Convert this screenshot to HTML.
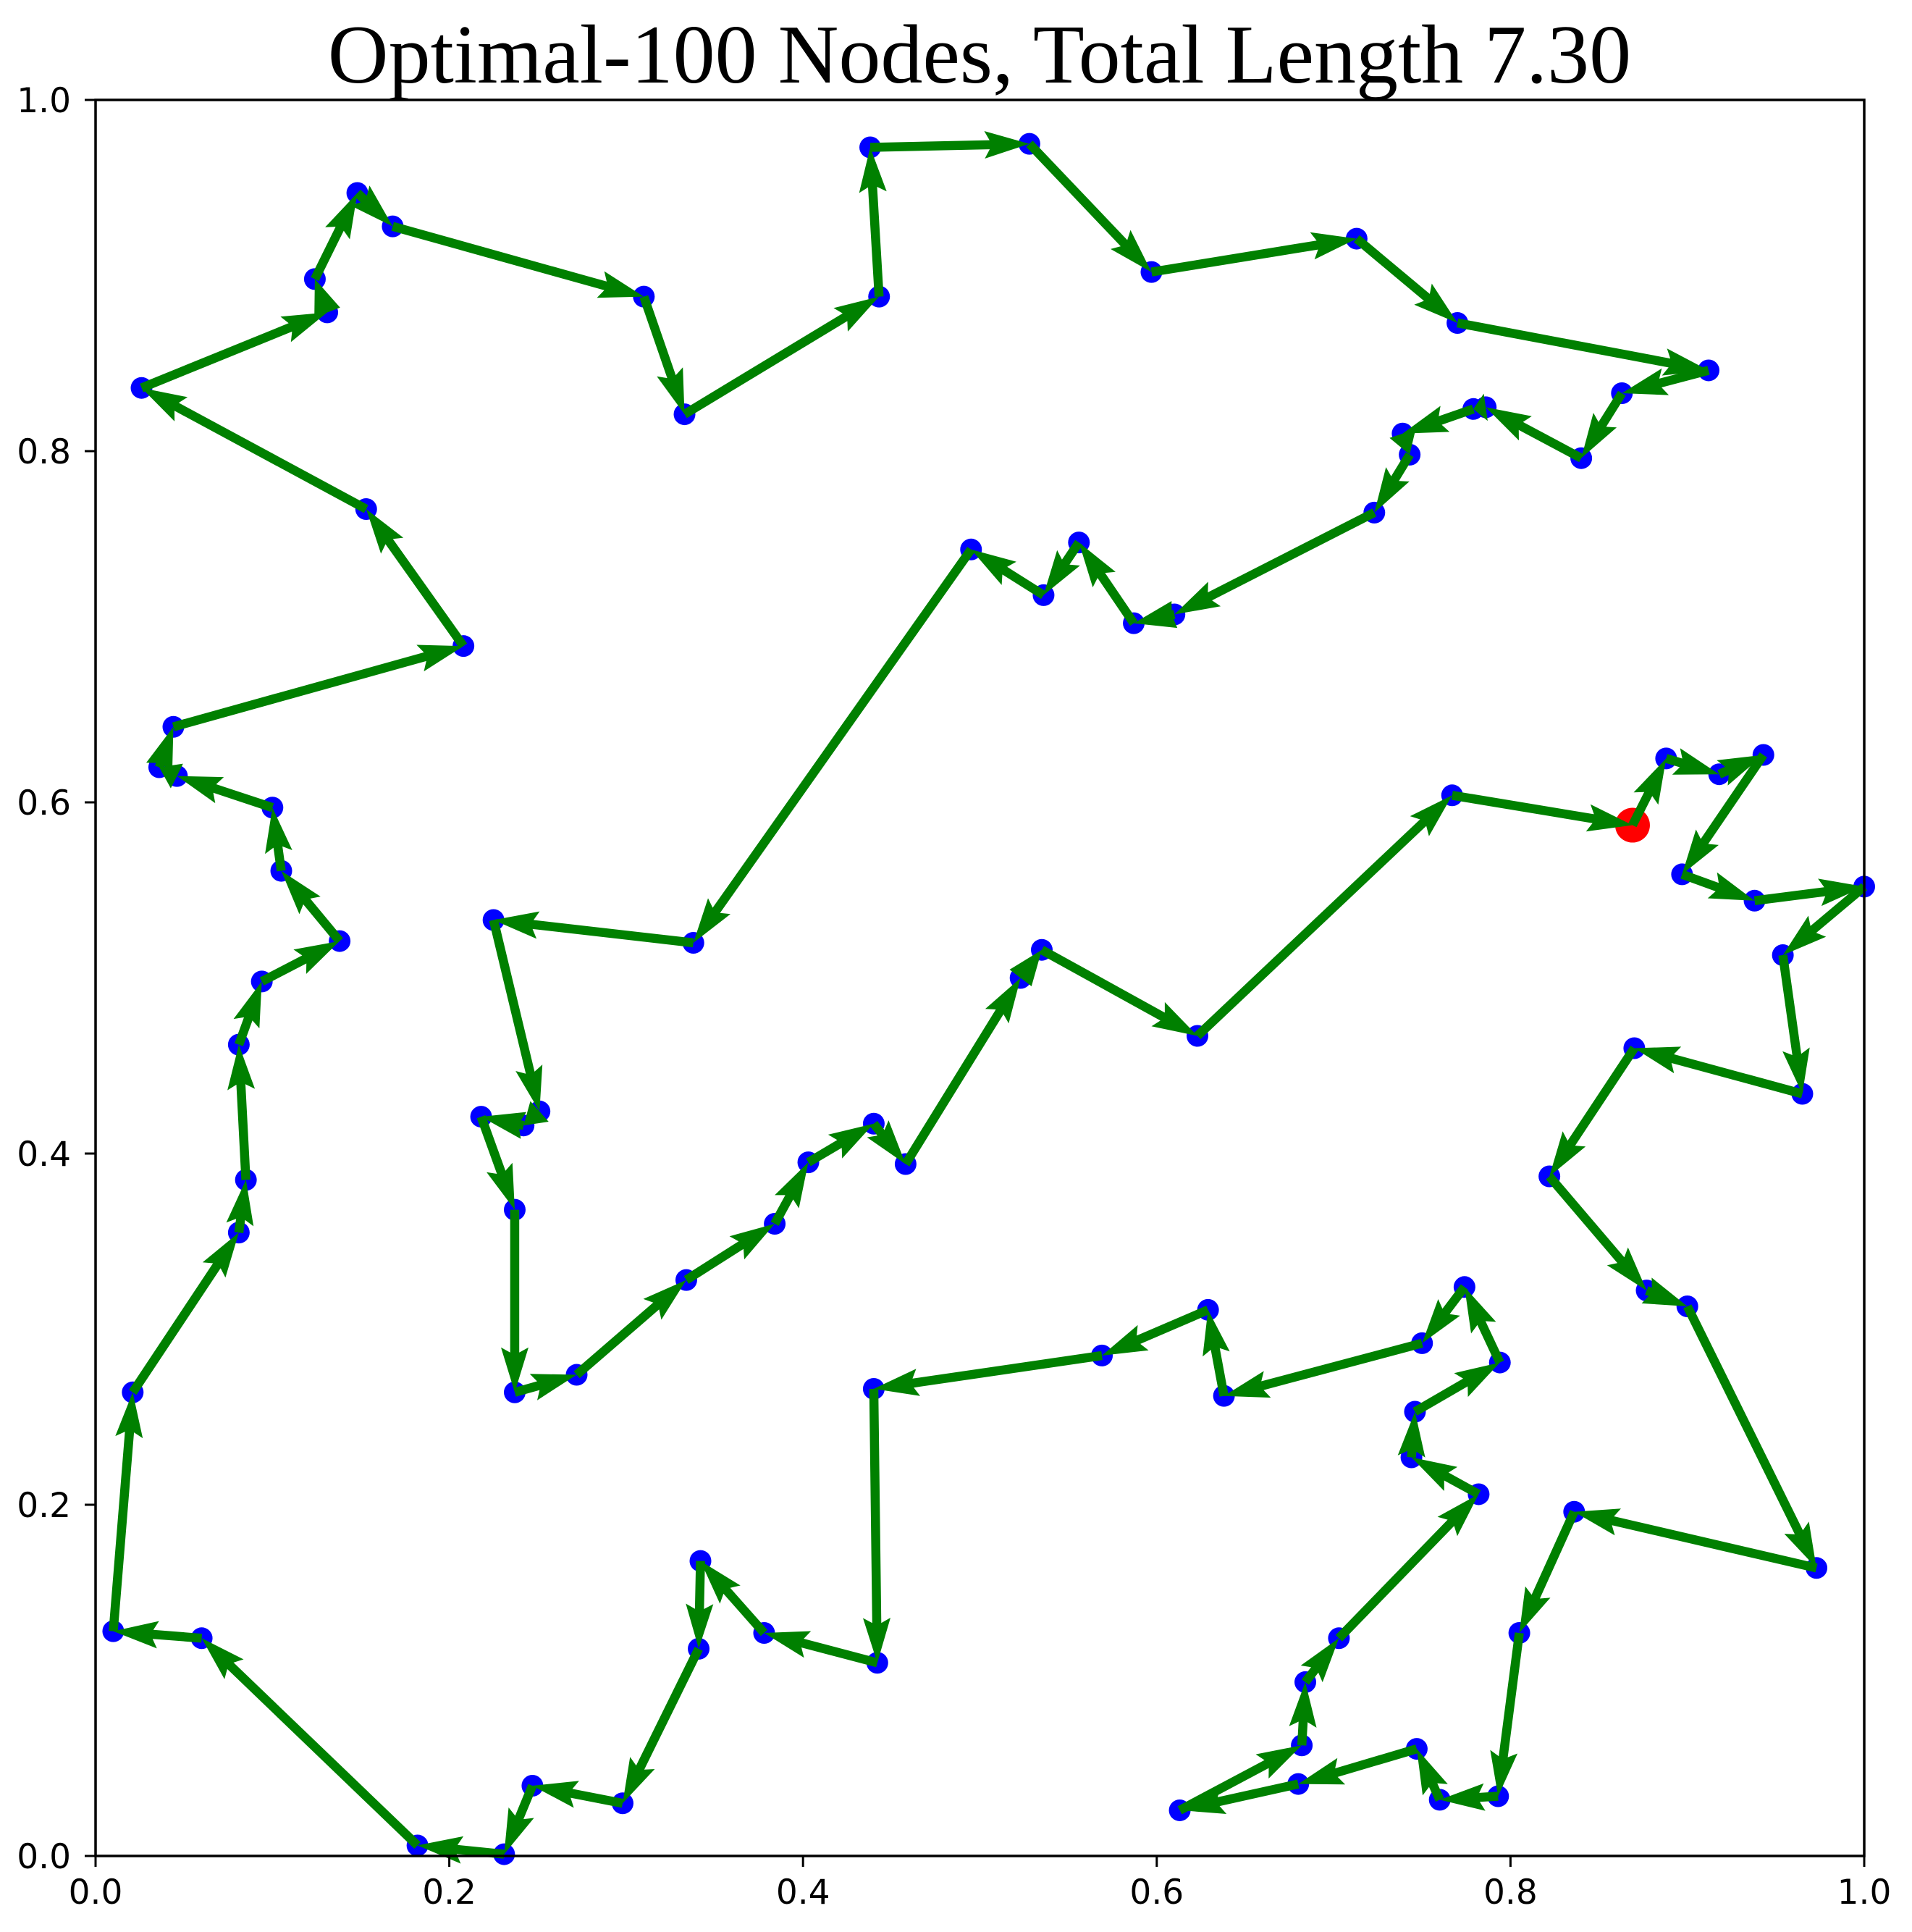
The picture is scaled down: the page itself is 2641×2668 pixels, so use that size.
<!DOCTYPE html>
<html><head><meta charset="utf-8"><style>
html,body{margin:0;padding:0;background:#fff;}
svg{display:block;}
</style></head><body>
<svg id="chart" width="2641" height="2668" viewBox="0 0 2641 2668" xmlns="http://www.w3.org/2000/svg">
<rect x="0" y="0" width="2641" height="2668" fill="#fff"/>
<text x="1353" y="114" font-family="Liberation Serif, serif" font-size="116" text-anchor="middle" fill="#000">Optimal-100 Nodes, Total Length 7.30</text>
<g id="marks"></g>
<g id="axes"></g>
</svg>
<script>
const tourX = [0.869,0.888,0.918,0.943,0.897,0.938,1.000,0.954,0.965,0.870,0.822,0.877,0.900,0.973,0.836,0.805,0.793,0.760,0.747,0.680,0.613,0.682,0.684,0.703,0.782,0.744,0.746,0.794,0.774,0.750,0.638,0.629,0.569,0.440,0.442,0.378,0.342,0.341,0.298,0.247,0.231,0.182,0.060,0.010,0.021,0.081,0.085,0.081,0.094,0.138,0.105,0.100,0.046,0.036,0.044,0.208,0.153,0.026,0.131,0.124,0.148,0.168,0.310,0.333,0.443,0.438,0.528,0.597,0.713,0.770,0.912,0.863,0.840,0.786,0.779,0.739,0.743,0.723,0.610,0.587,0.556,0.536,0.495,0.338,0.225,0.251,0.242,0.218,0.237,0.237,0.272,0.334,0.384,0.403,0.440,0.458,0.523,0.535,0.623,0.767];
const tourY = [0.587,0.625,0.616,0.627,0.559,0.544,0.552,0.513,0.434,0.460,0.387,0.322,0.313,0.164,0.196,0.127,0.034,0.032,0.061,0.041,0.026,0.063,0.099,0.124,0.206,0.227,0.253,0.281,0.324,0.292,0.262,0.311,0.285,0.266,0.110,0.127,0.168,0.118,0.030,0.040,0.001,0.006,0.124,0.128,0.264,0.355,0.385,0.462,0.498,0.521,0.561,0.597,0.615,0.620,0.643,0.689,0.767,0.836,0.879,0.898,0.947,0.928,0.888,0.821,0.888,0.973,0.975,0.902,0.921,0.873,0.846,0.833,0.796,0.825,0.824,0.810,0.798,0.765,0.707,0.702,0.748,0.718,0.744,0.520,0.533,0.424,0.416,0.421,0.368,0.264,0.274,0.328,0.360,0.395,0.417,0.394,0.500,0.516,0.467,0.604];
const xTickVals = [0.0,0.2,0.4,0.6,0.8,1.0];
const yTickVals = [0.0,0.2,0.4,0.6,0.8,1.0];
const xTickLabels = ["0.0","0.2","0.4","0.6","0.8","1.0"];
const yTickLabels = ["0.0","0.2","0.4","0.6","0.8","1.0"];

const L=132,R=2575,T=138,B=2563;
function sx(v){return L+v*(R-L);}
function sy(v){return B-v*(B-T);}
const NS='http://www.w3.org/2000/svg';
const marks=document.getElementById('marks');
const axes=document.getElementById('axes');
function mk(tag,attrs,parent){const e=document.createElementNS(NS,tag);for(const k in attrs)e.setAttribute(k,attrs[k]);parent.appendChild(e);return e;}

for(let i=0;i<tourX.length;i++){
  const c=mk('circle',{cx:sx(tourX[i]),cy:sy(tourY[i]),r:15,fill:'#0000ff'},marks);
  
  
}
const start=mk('circle',{cx:sx(tourX[0]),cy:sy(tourY[0]),r:24,fill:'#ff0000'},marks);



const w=12.5, hl=62, hw=19, ha=55;
for(let i=0;i<tourX.length;i++){
  const j=(i+1)%tourX.length;
  const x0=sx(tourX[i]),y0=sy(tourY[i]),x1=sx(tourX[j]),y1=sy(tourY[j]);
  const dx=x1-x0,dy=y1-y0,len=Math.hypot(dx,dy);
  if(len<1)continue;
  const ux=dx/len,uy=dy/len,px=-uy,py=ux;
  const hlen=Math.min(hl,len), alen=Math.min(ha,len);
  const pts=[
    [x0+px*w/2,y0+py*w/2],
    [x1-ux*alen+px*w/2,y1-uy*alen+py*w/2],
    [x1-ux*hlen+px*hw,y1-uy*hlen+py*hw],
    [x1,y1],
    [x1-ux*hlen-px*hw,y1-uy*hlen-py*hw],
    [x1-ux*alen-px*w/2,y1-uy*alen-py*w/2],
    [x0-px*w/2,y0-py*w/2]
  ];
  const p=mk('polygon',{points:pts.map(q=>q[0].toFixed(1)+','+q[1].toFixed(1)).join(' '),fill:'#008000'},marks);
  
  
}

const fr=mk('rect',{x:L,y:T,width:R-L,height:B-T,fill:'none',stroke:'#000','stroke-width':3.5},axes);


for(let i=0;i<xTickVals.length;i++){
  const x=sx(xTickVals[i]);
  const t=mk('line',{x1:x,y1:B,x2:x,y2:B+15,stroke:'#000','stroke-width':3},axes);
  
  
  const lb=mk('text',{x:x,y:2629,'font-family':'DejaVu Sans, Liberation Sans, sans-serif','font-size':47,'text-anchor':'middle',fill:'#000'},axes);
  lb.textContent=xTickLabels[i];
  
  
}
for(let i=0;i<yTickVals.length;i++){
  const y=sy(yTickVals[i]);
  const t=mk('line',{x1:L-15,y1:y,x2:L,y2:y,stroke:'#000','stroke-width':3},axes);
  
  
  const lb=mk('text',{x:98,y:y+17,'font-family':'DejaVu Sans, Liberation Sans, sans-serif','font-size':47,'text-anchor':'end',fill:'#000'},axes);
  lb.textContent=yTickLabels[i];
  
  
}
</script>
</body></html>
